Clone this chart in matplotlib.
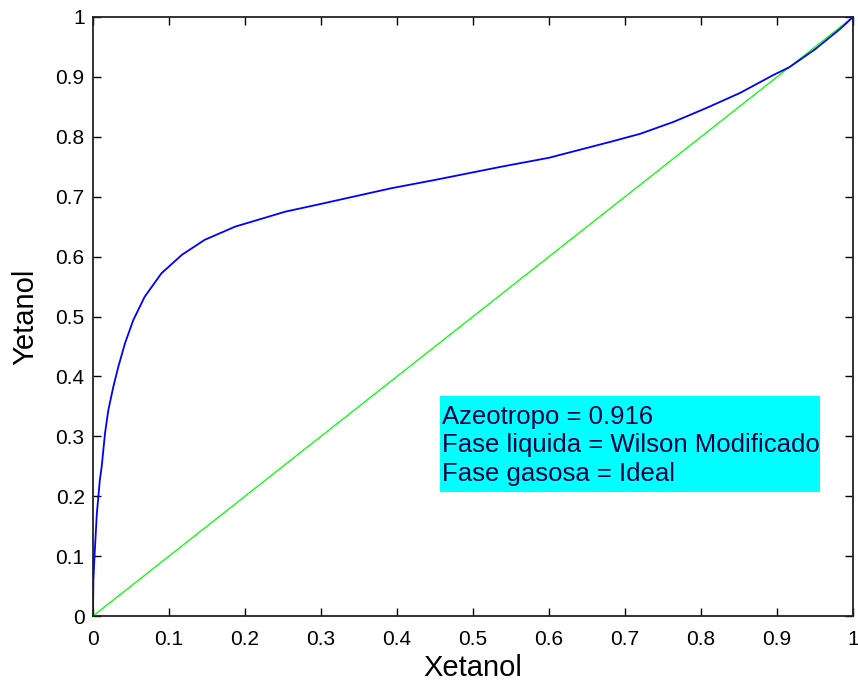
import matplotlib
matplotlib.use("Agg")
import matplotlib.pyplot as plt
from matplotlib.patches import Rectangle

plt.rcParams['font.family'] = ['Liberation Sans', 'DejaVu Sans']

# Wilson curve (x_ethanol, y_ethanol)
x_etanol = [0, 0.0005, 0.002, 0.005, 0.009, 0.0114, 0.0158, 0.0202, 0.0268, 0.0333,
            0.042, 0.053, 0.068, 0.090, 0.117, 0.147, 0.187, 0.253, 0.30, 0.392,
            0.45, 0.537, 0.6, 0.682, 0.72, 0.764, 0.807, 0.851, 0.895, 0.916, 0.95,
            0.983, 1.0]
y_etanol = [0, 0.06, 0.10, 0.17, 0.227, 0.249, 0.305, 0.344, 0.383, 0.416,
            0.455, 0.494, 0.533, 0.572, 0.603, 0.628, 0.650, 0.675, 0.688, 0.714,
            0.728, 0.750, 0.765, 0.792, 0.805, 0.825, 0.848, 0.873, 0.903, 0.916, 0.946,
            0.980, 1.0]
diag = [0, 1]

ticks = [0, 0.1, 0.2, 0.3, 0.4, 0.5, 0.6, 0.7, 0.8, 0.9, 1]
tick_labels = ['0', '0.1', '0.2', '0.3', '0.4', '0.5', '0.6', '0.7', '0.8', '0.9', '1']
info_lines = ['Azeotropo = 0.916', 'Fase liquida = Wilson Modificado', 'Fase gasosa = Ideal']

fig = plt.figure(figsize=(8.58, 6.86), dpi=100)
ax = fig.add_axes([93/858, 1-616/686, 760/858, 599/686])

ax.plot(diag, diag, color='#00ff00', lw=0.9, zorder=2)
ax.plot(x_etanol, y_etanol, color='#0000ff', lw=1.3, zorder=3)

ax.set_xlim(0, 1)
ax.set_ylim(0, 1)
ax.set_xticks(ticks)
ax.set_xticklabels(tick_labels)
ax.set_yticks(ticks)
ax.set_yticklabels(tick_labels)
ax.tick_params(direction='in', length=6, width=1.0, labelsize=15, pad=6,
               top=True, right=True, colors='black')
ax.tick_params(axis='x', pad=10)
for s in ax.spines.values():
    s.set_linewidth(1.3)
    s.set_color('#222222')

ax.set_xlabel('Xetanol', fontsize=21, labelpad=4)
ax.set_ylabel('Yetanol', fontsize=21, labelpad=12)

# info box
bx0, bx1 = (440-93)/760, (820-93)/760
by0, by1 = (616-492)/599, (616-396)/599
ax.add_patch(Rectangle((bx0, by0), bx1-bx0, by1-by0, facecolor='#00ffff',
                       edgecolor='none', zorder=4))
baselines = [0.320, 0.273, 0.2254]
for t, yb in zip(info_lines, baselines):
    ax.text(0.4595, yb, t, fontsize=18.5, color='#000040', va='baseline',
            ha='left', zorder=5)

fig.savefig('out.png', dpi=100, facecolor='white')
